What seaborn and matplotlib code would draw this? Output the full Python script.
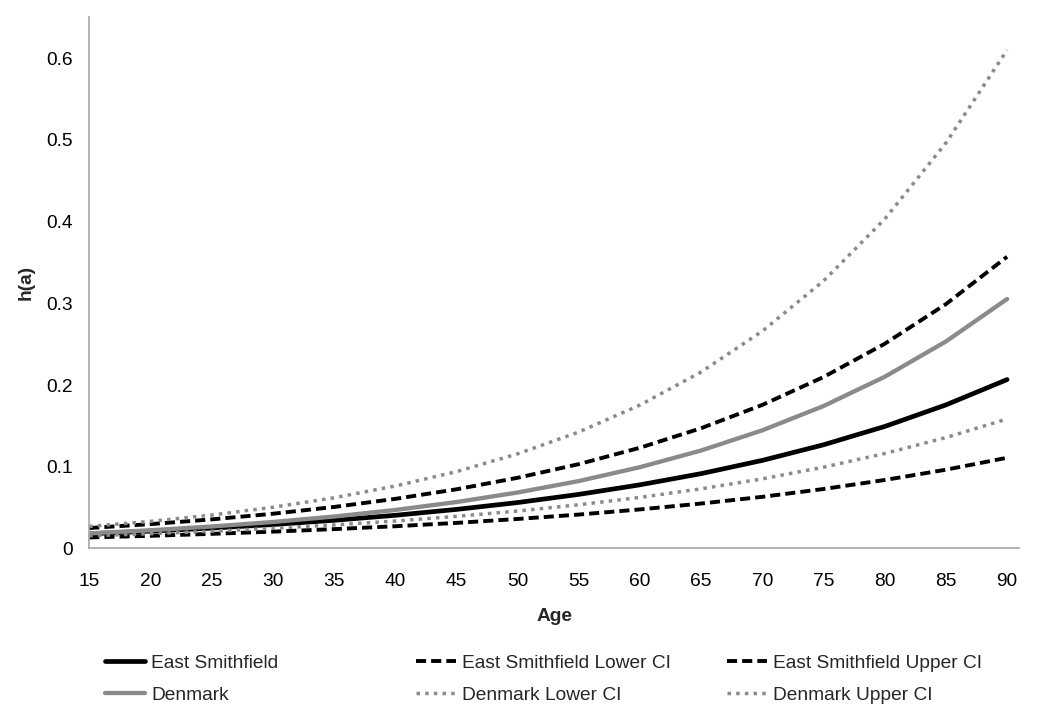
import matplotlib
matplotlib.use("Agg")
import matplotlib.pyplot as plt
import seaborn as sns
import numpy as np

# ---- data ----
ages = [15, 20, 25, 30, 35, 40, 45, 50, 55, 60, 65, 70, 75, 80, 85, 90]

east_smithfield = [0.0180, 0.0212, 0.0249, 0.0293, 0.0345, 0.0406, 0.0478, 0.0562,
                   0.0662, 0.0779, 0.0916, 0.1078, 0.1269, 0.1493, 0.1757, 0.2067]
es_lower = [0.0135, 0.0155, 0.0179, 0.0206, 0.0237, 0.0272, 0.0313, 0.0361,
            0.0415, 0.0478, 0.0550, 0.0632, 0.0728, 0.0838, 0.0964, 0.1110]
es_upper = [0.0250, 0.0298, 0.0356, 0.0425, 0.0508, 0.0607, 0.0724, 0.0865,
            0.1032, 0.1233, 0.1472, 0.1757, 0.2098, 0.2505, 0.2990, 0.3570]
denmark = [0.0185, 0.0223, 0.0269, 0.0324, 0.0391, 0.0471, 0.0568, 0.0685,
           0.0825, 0.0995, 0.1199, 0.1446, 0.1743, 0.2101, 0.2533, 0.3053]
dk_lower = [0.0155, 0.0181, 0.0211, 0.0247, 0.0288, 0.0336, 0.0393, 0.0458,
            0.0535, 0.0625, 0.0730, 0.0852, 0.0995, 0.1162, 0.1357, 0.1585]
dk_upper = [0.0270, 0.0332, 0.0409, 0.0504, 0.0620, 0.0764, 0.0940, 0.1158,
            0.1425, 0.1755, 0.2160, 0.2660, 0.3274, 0.4031, 0.4962, 0.6100]

x_ticks = list(range(15, 91, 5))
y_ticks = [0, 0.1, 0.2, 0.3, 0.4, 0.5, 0.6]
y_tick_labels = ["0", "0.1", "0.2", "0.3", "0.4", "0.5", "0.6"]

labels = ["East Smithfield", "East Smithfield Lower CI", "East Smithfield Upper CI",
          "Denmark", "Denmark Lower CI", "Denmark Upper CI"]

# ---- style ----
sns.set_style("white")
plt.rcParams["font.family"] = ["Liberation Sans", "DejaVu Sans"]

FS = 13.8
GREY = "#8a8a8a"
AXIS_GREY = "#a6a6a6"

fig = plt.figure(figsize=(10.5, 7.18), dpi=100)
ax = fig.add_axes([0.085, 0.2361, 0.8858, 0.7398])

dash = (0, (2.6, 1.3))
dot = (0, (1, 1.5))

series = [
    (east_smithfield, dict(color="black", linewidth=3.4, linestyle="-")),
    (es_lower, dict(color="black", linewidth=2.8, linestyle=dash)),
    (es_upper, dict(color="black", linewidth=2.8, linestyle=dash)),
    (denmark, dict(color=GREY, linewidth=3.1, linestyle="-")),
    (dk_lower, dict(color=GREY, linewidth=2.5, linestyle=dot)),
    (dk_upper, dict(color=GREY, linewidth=2.5, linestyle=dot)),
]
handles = []
for (vals, kw), lab in zip(series, labels):
    sns.lineplot(x=ages, y=vals, ax=ax, legend=False, solid_joinstyle="round",
                 dash_joinstyle="round", **kw)
    handles.append(ax.lines[-1])

ax.set_xlim(15, 91)
ax.set_ylim(0, 0.65)
ax.set_xticks(x_ticks)
ax.set_xticklabels([str(t) for t in x_ticks])
ax.set_yticks(y_ticks)
ax.set_yticklabels(y_tick_labels)

for s in ["top", "right"]:
    ax.spines[s].set_visible(False)
for s in ["left", "bottom"]:
    ax.spines[s].set_color(AXIS_GREY)
    ax.spines[s].set_linewidth(1.2)

ax.tick_params(axis="both", which="major", direction="out", length=4.3, width=1.0,
               color=AXIS_GREY, labelsize=FS, labelcolor="black")
ax.tick_params(axis="x", pad=13)
ax.tick_params(axis="y", pad=7.5)

ax.set_xlabel("Age", fontsize=FS, fontweight="bold", labelpad=13)
ax.set_ylabel("h(a)", fontsize=FS, fontweight="bold", labelpad=8)

# ---- legend: three columns, two rows ----
col_x = [104.9 / 1050, 415.8 / 1050, 726.8 / 1050]
pairs = [(0, 3), (1, 4), (2, 5)]
leg_y = 1 - 679 / 718
for cx, (i, j) in zip(col_x, pairs):
    lg = fig.legend([handles[i], handles[j]], [labels[i], labels[j]],
                    loc="center left", bbox_to_anchor=(cx, leg_y),
                    bbox_transform=fig.transFigure, frameon=False,
                    fontsize=FS, handlelength=2.1, handletextpad=0.3,
                    borderpad=0, borderaxespad=0, labelspacing=0.75)

fig.savefig("out.png", dpi=100)
